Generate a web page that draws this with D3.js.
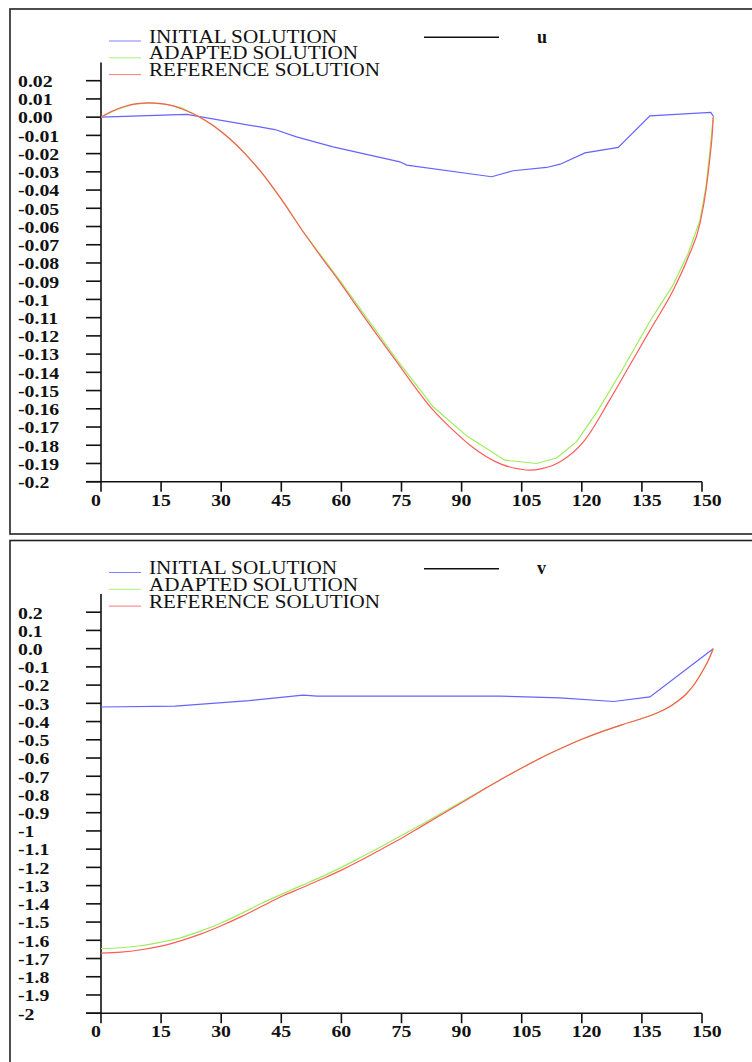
<!DOCTYPE html>
<html><head><meta charset="utf-8">
<script src="https://cdn.jsdelivr.net/npm/d3@7"></script>
<style>html,body{margin:0;padding:0;background:#fff;}svg{display:block;}</style>
</head><body>
<svg id="c" width="752" height="1062"></svg>
<script>
const xTicks = [0,15,30,45,60,75,90,105,120,135,150];
const uTickVals = [0.02,0.01,0,-0.01,-0.02,-0.03,-0.04,-0.05,-0.06,-0.07,-0.08,-0.09,-0.1,-0.11,-0.12,-0.13,-0.14,-0.15,-0.16,-0.17,-0.18,-0.19,-0.2];
const uTickLabels = ["0.02","0.01","0.00","-0.01","-0.02","-0.03","-0.04","-0.05","-0.06","-0.07","-0.08","-0.09","-0.1","-0.11","-0.12","-0.13","-0.14","-0.15","-0.16","-0.17","-0.18","-0.19","-0.2"];
const vTickVals = [0.2,0.1,0,-0.1,-0.2,-0.3,-0.4,-0.5,-0.6,-0.7,-0.8,-0.9,-1,-1.1,-1.2,-1.3,-1.4,-1.5,-1.6,-1.7,-1.8,-1.9,-2];
const vTickLabels = ["0.2","0.1","0.0","-0.1","-0.2","-0.3","-0.4","-0.5","-0.6","-0.7","-0.8","-0.9","-1","-1.1","-1.2","-1.3","-1.4","-1.5","-1.6","-1.7","-1.8","-1.9","-2"];
const legendLabels = ["INITIAL SOLUTION","ADAPTED SOLUTION","REFERENCE SOLUTION"];
const seriesColors = ["#6464ff","#9cee5a","#ff5a5a"];

// u panel
const uInitX = [0,21.4,43.4,48.8,57.9,74.6,76.3,97.5,102.9,111.2,114.6,120.8,129.1,137,152.2,152.9];
const uInitY = [0,0.0015,-0.0068,-0.0108,-0.0163,-0.0245,-0.0263,-0.0327,-0.0294,-0.0276,-0.0258,-0.0196,-0.0166,0.0007,0.0026,0.0002];
const uAdaX = [0,4,8,12,16,20,24,28,32,36,40,45,50.5,59.6,73.4,82.9,91.3,100.8,108.7,113.7,118.7,124,130,137,142.8,146.6,149.5,151,152,152.8];
const uAdaY = [0,0.0042,0.007,0.0078,0.0072,0.0052,0.0008,-0.0046,-0.0116,-0.0201,-0.0302,-0.045,-0.063,-0.0895,-0.1318,-0.1589,-0.175,-0.1882,-0.19,-0.187,-0.178,-0.161,-0.139,-0.112,-0.092,-0.0745,-0.0565,-0.038,-0.018,0];
const uRefX = [0,3,6,9,12,15,18,21,24,28,32,36,40,45,50.5,55,59.6,65,73.4,82.9,88,92.1,96,100,104.6,107,110,114.6,120.8,127,132,137,142.8,146.6,149.5,151,152,152.6,152.8];
const uRefY = [0,0.0035,0.006,0.0074,0.0078,0.0074,0.0062,0.0038,0.0008,-0.0046,-0.0116,-0.0201,-0.0302,-0.045,-0.063,-0.0768,-0.0905,-0.1075,-0.133,-0.1607,-0.172,-0.18,-0.186,-0.1905,-0.1931,-0.1937,-0.1928,-0.189,-0.177,-0.155,-0.136,-0.117,-0.095,-0.0766,-0.0583,-0.04,-0.0218,-0.008,0];

// v panel
const vInitX = [0,18.5,37,50.4,54,99.6,114.5,128,137,152.8];
const vInitY = [-0.32,-0.315,-0.285,-0.255,-0.26,-0.26,-0.27,-0.29,-0.265,0];
const vAdaX = [0,5,10,15,20,25,30,35,40,45,50,55,60,65,70,75,80,85,90,95,100,105,110,115,120,125,130,135,138,141,144,146,148,150,151.5,152.8];
const vAdaY = [-1.645,-1.641,-1.63,-1.61,-1.585,-1.548,-1.505,-1.453,-1.398,-1.348,-1.3,-1.252,-1.2,-1.143,-1.085,-1.025,-0.965,-0.903,-0.84,-0.777,-0.715,-0.655,-0.597,-0.545,-0.497,-0.455,-0.418,-0.383,-0.36,-0.33,-0.287,-0.25,-0.198,-0.128,-0.068,0];
const vRefX = [0,5,10,15,20,25,30,35,40,45,50,55,60,65,70,75,80,85,90,95,100,105,110,115,120,125,130,135,138,141,144,146,148,150,151.5,152.8];
const vRefY = [-1.67,-1.665,-1.652,-1.632,-1.602,-1.565,-1.52,-1.47,-1.415,-1.36,-1.313,-1.265,-1.215,-1.16,-1.1,-1.04,-0.975,-0.91,-0.845,-0.78,-0.715,-0.655,-0.597,-0.545,-0.497,-0.455,-0.418,-0.383,-0.36,-0.33,-0.287,-0.25,-0.198,-0.128,-0.068,0];

const svg = d3.select("#c");
const FONT = "'Liberation Serif','Times New Roman',serif";
const x = d3.scaleLinear().domain([0,150]).range([101,702]);

function panel(off, title, tickVals, tickLabels, domain, axisTop, series, smoothAdapted) {
  const g = svg.append("g").attr("transform", `translate(0,${off})`);
  const y = d3.scaleLinear().domain(domain).range([481.7, 80.7]);
  g.append("rect").attr("x",10).attr("y",9).attr("width",800).attr("height",525)
    .attr("fill","none").attr("stroke","#222").attr("stroke-width",1.6);
  legendLabels.forEach((lab,i) => {
    const ly = 41 + i*16.8;
    g.append("line").attr("x1",109).attr("x2",141).attr("y1",ly).attr("y2",ly)
      .attr("stroke",seriesColors[i]).attr("stroke-width",1).attr("opacity",0.8);
    g.append("text").attr("x",149).attr("y",ly+1.5).attr("font-family",FONT)
      .attr("font-size",18).attr("textLength",[188,209,231][i]).attr("lengthAdjust","spacingAndGlyphs")
      .attr("fill","#111").text(lab);
  });
  g.append("line").attr("x1",424).attr("x2",499).attr("y1",37.3).attr("y2",37.3)
    .attr("stroke","#111").attr("stroke-width",1.6);
  g.append("text").attr("x",537).attr("y",42.7).attr("font-family",FONT).attr("font-weight","bold")
    .attr("font-size",18).attr("fill","#111").text(title);
  g.append("line").attr("x1",101).attr("x2",101).attr("y1",y(axisTop)).attr("y2",y(domain[0]))
    .attr("stroke","#111").attr("stroke-width",1.6);
  g.append("line").attr("x1",86).attr("x2",x(150)).attr("y1",y(domain[0])).attr("y2",y(domain[0]))
    .attr("stroke","#111").attr("stroke-width",1.6);
  tickVals.forEach((t,i) => {
    g.append("line").attr("x1",86).attr("x2",101).attr("y1",y(t)).attr("y2",y(t))
      .attr("stroke","#111").attr("stroke-width",1.6);
    g.append("text").attr("transform",`translate(18,${y(t)+6.3}) scale(1.2,1)`)
      .attr("font-family",FONT).attr("font-weight","bold").attr("font-size",16.5).attr("fill","#111")
      .text(tickLabels[i]);
  });
  xTicks.forEach(t => {
    g.append("line").attr("x1",x(t)).attr("x2",x(t)).attr("y1",y(domain[0])).attr("y2",y(domain[0])+10)
      .attr("stroke","#111").attr("stroke-width",1.6);
    g.append("text").attr("transform",`translate(${x(t)-10},505.5) scale(1.2,1)`)
      .attr("font-family",FONT).attr("font-weight","bold").attr("font-size",16.5).attr("fill","#111")
      .text(String(t));
  });
  series.forEach((s,i) => {
    const pts = s[0].map((xv,j) => [xv, s[1][j]]);
    const smooth = i === 2 || (i === 1 && smoothAdapted);
    const line = d3.line().x(d => x(d[0])).y(d => y(d[1]))
      .curve(smooth ? d3.curveMonotoneX : d3.curveLinear);
    g.append("path").attr("d", line(pts)).attr("fill","none")
      .attr("stroke",seriesColors[i]).attr("stroke-width",1.2);
  });
}

panel(0, "u", uTickVals, uTickLabels, [-0.2,0.02], 0.03,
  [[uInitX,uInitY],[uAdaX,uAdaY],[uRefX,uRefY]], false);
panel(531.5, "v", vTickVals, vTickLabels, [-2,0.2], 0.3,
  [[vInitX,vInitY],[vAdaX,vAdaY],[vRefX,vRefY]], true);
</script>
</body></html>
